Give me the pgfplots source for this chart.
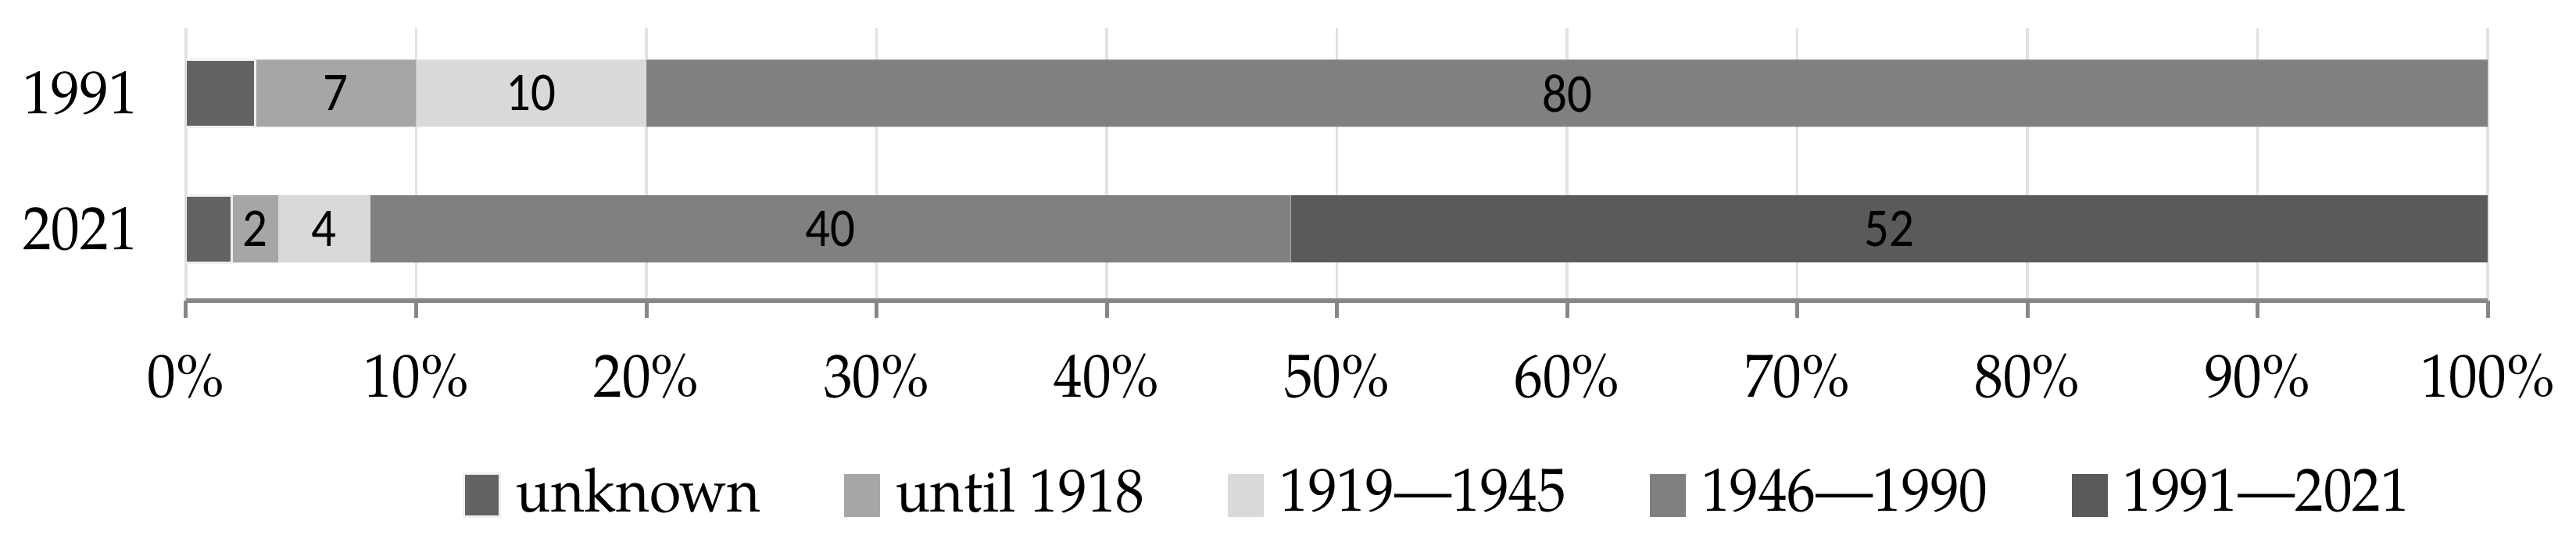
\documentclass[border=0pt]{standalone}
\usepackage{fontspec}
\setmainfont{TeX Gyre Pagella}
\newfontfamily\labfont{Carlito}
\usepackage{graphicx}
\usepackage{pgfplots}
\pgfplotsset{compat=1.18}

\definecolor{cUnk}{HTML}{636363}
\definecolor{cOld}{HTML}{A6A6A6}
\definecolor{cWar}{HTML}{D9D9D9}
\definecolor{cSoc}{HTML}{808080}
\definecolor{cNew}{HTML}{5A5A5A}
\definecolor{axisgray}{HTML}{878787}
\definecolor{gridgray}{HTML}{E2E2E2}

% text in the reference is slightly condensed
\newcommand\sq[1]{\scalebox{0.94}[1]{#1}}

\begin{document}
\begin{tikzpicture}
\begin{axis}[
    scale only axis, width=294.5pt, height=34.9pt,
    xbar stacked, bar width=8.6pt,
    xmin=0, xmax=100, ymin=-0.53, ymax=1.48,
    ytick={0,1}, yticklabels={\sq{2021},\sq{1991}},
    xtick={0,10,...,100},
    xticklabels={\sq{0\%},\sq{10\%},\sq{20\%},\sq{30\%},\sq{40\%},\sq{50\%},\sq{60\%},\sq{70\%},\sq{80\%},\sq{90\%},\sq{100\%}},
    axis x line*=bottom, axis y line*=left,
    y axis line style={draw=none}, ytick style={draw=none},
    x axis line style={draw=axisgray, line width=0.55pt},
    xtick style={draw=axisgray, line width=0.5pt},
    tick align=outside, major tick length=2.2pt,
    xmajorgrids, grid style={draw=gridgray, line width=0.35pt},
    ticklabel style={font=\fontsize{7.8}{10}\selectfont},
    xticklabel style={yshift=-1.1pt},
    yticklabel style={xshift=-0.5pt},
    legend columns=5,
    legend style={draw=none, fill=none, inner sep=0pt,
        at={(0.1195,-0.716)}, anchor=west,
        font=\fontsize{7.8}{9}\selectfont,
        /tikz/every even column/.append style={column sep=8.7pt}},
    legend image code/.code={\fill[#1] (0pt,-2.7pt) rectangle (4.6pt,2.8pt);},
]
\addplot[fill=cUnk, draw=white!94!black, line width=0.3pt] coordinates {(3,1) (2,0)};
\addplot[fill=cOld, draw=none] coordinates {(7,1) (2,0)};
\addplot[fill=cWar, draw=none] coordinates {(10,1) (4,0)};
\addplot[fill=cSoc, draw=none] coordinates {(80,1) (40,0)};
\addplot[fill=cNew, draw=none] coordinates {(0,1) (52,0)};
\legend{\sq{unknown},\sq{until 1918},\sq{1919---1945},\sq{1946---1990},\sq{1991---2021}}
\coordinate (sw) at (rel axis cs:0,0);
\coordinate (ne) at (rel axis cs:1,1);
\end{axis}

% value labels, centred in their segments
\begin{axis}[
    scale only axis, width=294.5pt, height=34.9pt,
    xmin=0, xmax=100, ymin=-0.53, ymax=1.48,
    hide axis, clip=false,
]
\addplot[only marks, mark=none, point meta=explicit symbolic,
    nodes near coords={\scalebox{0.9}[1]{\pgfplotspointmeta}},
    nodes near coords style={anchor=center, text=black,
        font=\labfont\fontsize{7}{8}\selectfont}]
    coordinates {(6.5,1)[7] (15,1)[10] (60,1)[80]
                 (3,0)[2] (6,0)[4] (28,0)[40] (74,0)[52]};
\end{axis}

\pgfresetboundingbox
\path[use as bounding box] ([xshift=-23.8pt,yshift=-31.7pt]sw) rectangle ([xshift=11.3pt,yshift=3.6pt]ne);
\end{tikzpicture}
\end{document}
